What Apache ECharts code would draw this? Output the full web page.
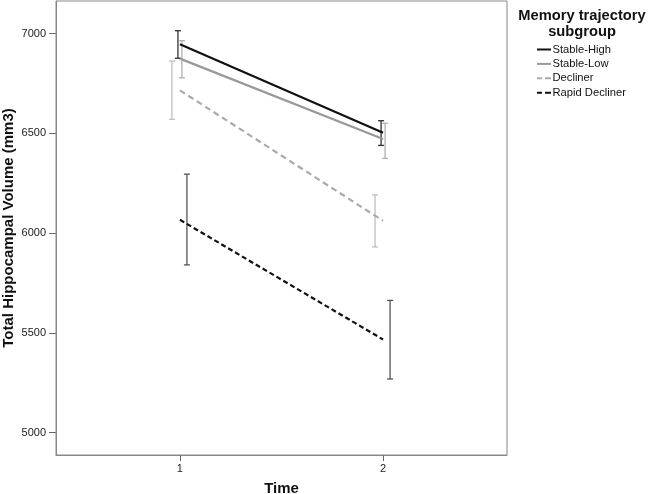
<!DOCTYPE html>
<html>
<head>
<meta charset="utf-8">
<script src="https://cdn.jsdelivr.net/npm/echarts@6/dist/echarts.min.js"></script>
<style>
  html, body { margin: 0; padding: 0; background: #fff; }
  #chart { width: 648px; height: 494px; }
</style>
</head>
<body>
<div id="chart"></div>
<script>
// data
var times = [1, 2];
var yTicks = [5000, 5500, 6000, 6500, 7000];

var stableHigh   = [6947, 6503];
var stableHighLo = [6877, 6440];
var stableHighHi = [7015, 6564];

var stableLow    = [6875, 6472];
var stableLowLo  = [6779, 6375];
var stableLowHi  = [6965, 6551];

var decliner     = [6716, 6062];
var declinerLo   = [6571, 5931];
var declinerHi   = [6863, 6192];

var rapid        = [6067, 5467];
var rapidLo      = [5841, 5269];
var rapidHi      = [6296, 5663];

var FONT = 'Liberation Sans, Arial, sans-serif';
var SOLID_ICON = 'path://M0,0h14v2h-14z';
var DASH_ICON = 'path://M0,0h5v2h-5zM8,0h6v2h-6z';

var chart = echarts.init(document.getElementById('chart'));

function pairs(vals) {
  return times.map(function (t, i) { return [t, vals[i]]; });
}

// error bar series, dodge is a pixel shift so bars don't overlap
function errBar(name, lo, hi, color, width, dodge) {
  return {
    type: 'custom',
    name: name + ' err',
    silent: true,
    data: times.map(function (t, i) { return [t, lo[i], hi[i]]; }),
    renderItem: function (params, api) {
      var p1 = api.coord([api.value(0), api.value(1)]);
      var p2 = api.coord([api.value(0), api.value(2)]);
      var x = p1[0] + dodge;
      var cap = 3;
      var st = { stroke: color, lineWidth: width };
      return {
        type: 'group',
        children: [
          { type: 'line', shape: { x1: x, y1: p1[1], x2: x, y2: p2[1] }, style: st },
          { type: 'line', shape: { x1: x - cap, y1: p1[1], x2: x + cap, y2: p1[1] }, style: st },
          { type: 'line', shape: { x1: x - cap, y1: p2[1], x2: x + cap, y2: p2[1] }, style: st }
        ]
      };
    },
    z: 3
  };
}

function meanLine(name, vals, color, width, dash) {
  return {
    type: 'line',
    name: name,
    data: pairs(vals),
    symbol: 'none',
    lineStyle: { color: color, width: width, type: dash || 'solid' },
    itemStyle: { color: color },
    z: 4
  };
}

var option = {
  animation: false,
  textStyle: { fontFamily: FONT },
  grid: { left: 56, top: 1, right: 141, bottom: 39, containLabel: false, outerBoundsMode: 'none' },
  title: {
    text: 'Memory trajectory\nsubgroup',
    left: 577,
    top: 3,
    textAlign: 'center',
    textStyle: { fontSize: 14.7, fontWeight: 'bold', color: '#111', lineHeight: 16, fontFamily: FONT }
  },
  legend: {
    orient: 'vertical',
    left: 533,
    top: 43,
    padding: [0, 4],
    itemWidth: 15,
    itemHeight: 2,
    itemGap: 1.4,
    textStyle: { fontSize: 11.2, color: '#111', lineHeight: 13, padding: [0, 0, 0, -4] },
    data: [
      { name: 'Stable-High', icon: SOLID_ICON },
      { name: 'Stable-Low', icon: SOLID_ICON },
      { name: 'Decliner', icon: DASH_ICON },
      { name: 'Rapid Decliner', icon: DASH_ICON }
    ]
  },
  xAxis: {
    type: 'value',
    min: 0.39,
    max: 2.61,
    name: 'Time',
    nameLocation: 'middle',
    nameGap: 26,
    nameMoveOverlap: false,
    nameTextStyle: { fontSize: 15, fontWeight: 'bold', color: '#111' },
    axisLine: { show: true, lineStyle: { color: '#888', width: 1 } },
    axisTick: { show: true, customValues: times, length: 6, lineStyle: { color: '#666' } },
    axisLabel: { customValues: times, fontSize: 11, color: '#222', margin: 8,
      formatter: function (v) { return String(v); } },
    splitLine: { show: false }
  },
  yAxis: {
    type: 'value',
    min: 4888,
    max: 7164,
    name: 'Total Hippocampal Volume (mm3)',
    nameLocation: 'middle',
    nameRotate: 90,
    nameGap: 40,
    nameMoveOverlap: false,
    nameTextStyle: { fontSize: 15, fontWeight: 'bold', color: '#111' },
    axisLine: { show: true, lineStyle: { color: '#888', width: 1 } },
    axisTick: { show: true, customValues: yTicks, length: 7, lineStyle: { color: '#666' } },
    axisLabel: { customValues: yTicks, fontSize: 11, color: '#222', margin: 10,
      formatter: function (v) { return String(v); } },
    splitLine: { show: false }
  },
  series: [
    meanLine('Stable-High', stableHigh, '#111', 2.2),
    meanLine('Stable-Low', stableLow, '#999', 2.2),
    meanLine('Decliner', decliner, '#aaa', 2.2, [6, 4]),
    meanLine('Rapid Decliner', rapid, '#111', 2.2, [5, 3]),
    errBar('Stable-High', stableHighLo, stableHighHi, '#333', 1.3, -2),
    errBar('Stable-Low', stableLowLo, stableLowHi, '#b0b0b0', 1.3, 2),
    errBar('Decliner', declinerLo, declinerHi, '#c0c0c0', 1.3, -8),
    errBar('Rapid Decliner', rapidLo, rapidHi, '#555', 1.3, 7)
  ],
  graphic: [
    // right and top border of the plot frame
    { type: 'rect', shape: { x: 56, y: 1, width: 451, height: 454 },
      style: { fill: 'none', stroke: '#888', lineWidth: 1 }, silent: true, z: 1 }
  ]
};

chart.setOption(option);
</script>
</body>
</html>
